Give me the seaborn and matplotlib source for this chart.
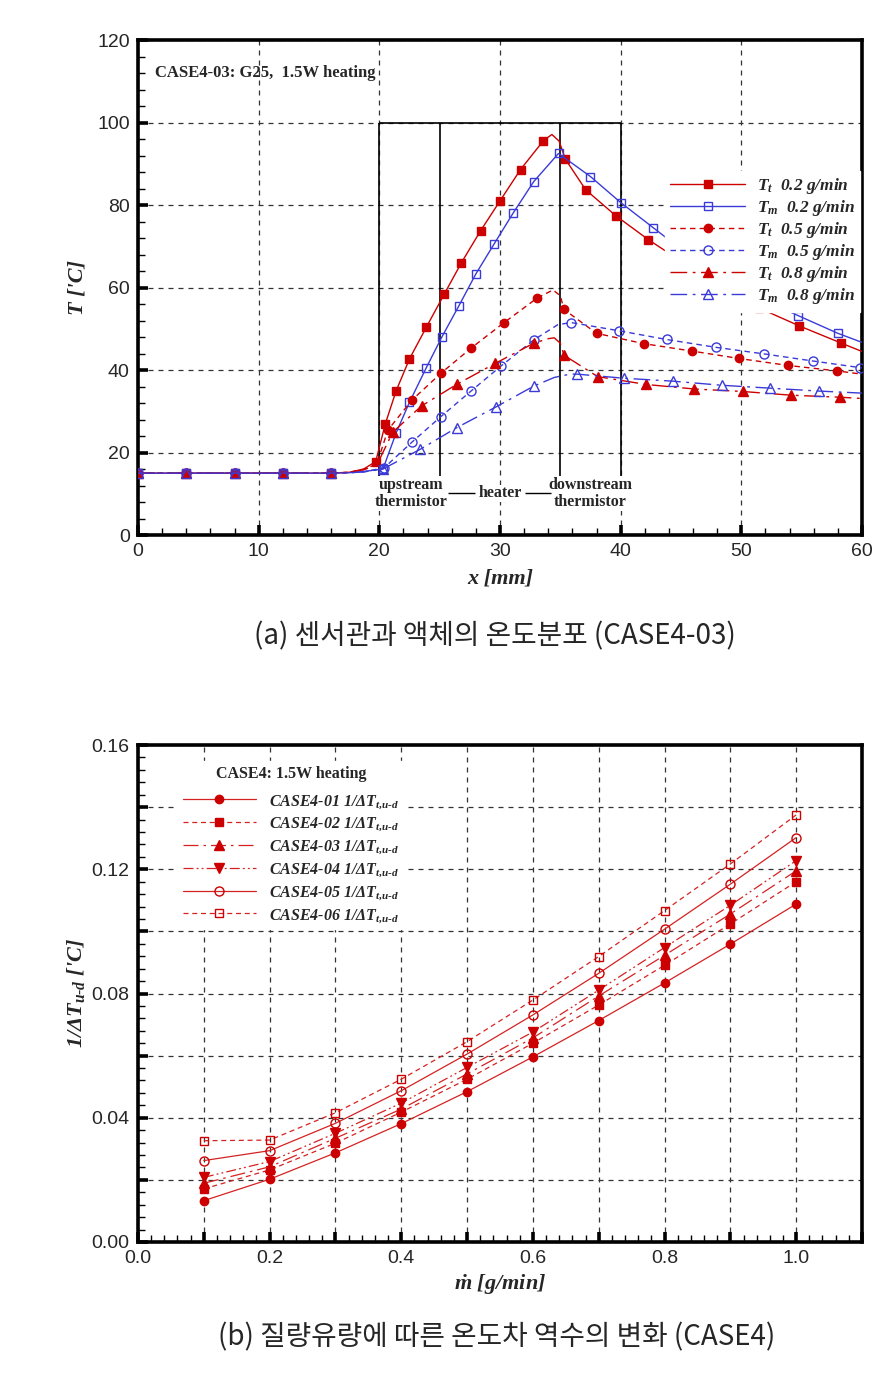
import matplotlib
matplotlib.use("Agg")
import matplotlib.pyplot as plt
import numpy as np
import pandas as pd
import seaborn as sns
from matplotlib.ticker import MultipleLocator, FuncFormatter
from matplotlib.lines import Line2D

# ---------------- data: (a) temperature distribution ----------------
tt02_x = [0, 4, 8, 12, 16, 17.5, 18.7, 19.7, 20.5, 21.4, 22.5, 23.9, 25.4, 26.8, 28.4, 30.0, 31.7, 33.6,
          34.3, 34.9, 35.4, 37.1, 39.6, 42.3, 45.2, 48.3, 51.5, 54.8, 58.3, 60]
tt02_y = [15, 15, 15, 15, 15, 15.2, 16.0, 17.8, 27.0, 35.0, 42.7, 50.4, 58.5, 66.0, 73.8, 81.0, 88.6, 95.6,
          97.1, 95.5, 91.2, 83.7, 77.4, 71.6, 66.0, 60.5, 55.0, 50.7, 46.5, 44.5]
tt02_mk = [0, 1, 2, 3, 4, 7, 8, 9, 10, 11, 12, 13, 14, 15, 16, 17, 20, 21, 22, 23, 24, 25, 26, 27, 28]

tm02_x = [0, 4, 8, 12, 16, 17.5, 18.7, 20.3, 21.4, 22.5, 23.9, 25.2, 26.6, 28.0, 29.5, 31.1, 32.8, 34.85,
          37.5, 40.0, 42.7, 45.4, 48.1, 51.4, 54.7, 58.0, 60]
tm02_y = [15, 15, 15, 15, 15, 15.1, 15.4, 16.0, 24.8, 32.2, 40.6, 48.1, 55.6, 63.3, 70.5, 78.1, 85.7, 92.5,
          86.9, 80.6, 74.5, 68.4, 62.5, 57.6, 53.2, 48.9, 46.7]
tm02_mk = [0, 1, 2, 3, 4, 7, 8, 9, 10, 11, 12, 13, 14, 15, 16, 17, 18, 19, 20, 21, 22, 23, 24, 25]

tt05_x = [0, 4, 8, 12, 16, 17.5, 18.7, 19.8, 20.7, 22.7, 25.1, 27.6, 30.3, 33.1, 34.4, 35.0, 35.3, 38.0,
          41.9, 45.9, 49.8, 53.9, 57.9, 60]
tt05_y = [15, 15, 15, 15, 15, 15.2, 15.9, 17.2, 25.4, 32.7, 39.2, 45.3, 51.4, 57.5, 59.4, 58.0, 54.7, 48.9,
          46.4, 44.6, 42.8, 41.1, 39.8, 39.0]
tt05_mk = [0, 1, 2, 3, 4, 8, 9, 10, 11, 12, 13, 16, 17, 18, 19, 20, 21, 22]

tm05_x = [0, 4, 8, 12, 16, 17.5, 18.7, 20.4, 22.7, 25.1, 27.6, 30.1, 32.8, 34.8, 35.9, 39.9, 43.8, 47.9,
          51.9, 55.9, 59.8, 60]
tm05_y = [15, 15, 15, 15, 15, 15.1, 15.3, 16.3, 22.5, 28.7, 34.9, 41.0, 47.3, 51.0, 51.5, 49.5, 47.4, 45.5,
          43.9, 42.2, 40.6, 40.5]
tm05_mk = [0, 1, 2, 3, 4, 7, 8, 9, 10, 11, 12, 14, 15, 16, 17, 18, 19, 20]

tt08_x = [0, 4, 8, 12, 16, 17.5, 18.7, 19.8, 21.1, 23.5, 26.4, 29.6, 32.8, 34.0, 34.5, 35.0, 35.3, 38.1,
          42.1, 46.1, 50.1, 54.1, 58.2, 60]
tt08_y = [15, 15, 15, 15, 15, 15.2, 15.8, 17.0, 24.9, 31.3, 36.5, 41.6, 46.5, 47.6, 47.8, 46.5, 43.6, 38.4,
          36.5, 35.4, 34.8, 33.9, 33.4, 33.1]
tt08_mk = [0, 1, 2, 3, 4, 8, 9, 10, 11, 12, 16, 17, 18, 19, 20, 21, 22]

tm08_x = [0, 4, 8, 12, 16, 17.5, 18.7, 20.3, 23.4, 26.4, 29.7, 32.8, 34.5, 35.8, 36.4, 40.3, 44.3, 48.4,
          52.4, 56.4, 60]
tm08_y = [15, 15, 15, 15, 15, 15.1, 15.3, 16.0, 20.8, 26.0, 31.1, 36.1, 38.2, 39.0, 39.0, 38.0, 37.3, 36.3,
          35.6, 34.9, 34.4]
tm08_mk = [0, 1, 2, 3, 4, 7, 8, 9, 10, 11, 14, 15, 16, 17, 18, 19]

labels_a = [r"$T_t$  0.2 g/min", r"$T_m$  0.2 g/min", r"$T_t$  0.5 g/min",
            r"$T_m$  0.5 g/min", r"$T_t$  0.8 g/min", r"$T_m$  0.8 g/min"]

# ---------------- data: (b) inverse temperature difference ----------------
mdot = [0.1, 0.2, 0.3, 0.4, 0.5, 0.6, 0.7, 0.8, 0.9, 1.0]
case01 = [0.0133, 0.0202, 0.0287, 0.0381, 0.0484, 0.0596, 0.0713, 0.0834, 0.0959, 0.1088]
case02 = [0.0171, 0.0232, 0.0318, 0.0418, 0.0524, 0.0640, 0.0763, 0.0891, 0.1024, 0.1160]
case03 = [0.0189, 0.0242, 0.0334, 0.0428, 0.0541, 0.0657, 0.0792, 0.0923, 0.1056, 0.1195]
case04 = [0.0208, 0.0259, 0.0350, 0.0447, 0.0562, 0.0676, 0.0811, 0.0948, 0.1084, 0.1228]
case05 = [0.0262, 0.0294, 0.0382, 0.0487, 0.0605, 0.0731, 0.0865, 0.1007, 0.1152, 0.1302]
case06 = [0.0326, 0.0328, 0.0416, 0.0524, 0.0645, 0.0779, 0.0919, 0.1067, 0.1217, 0.1375]
case_names = ["CASE4-01", "CASE4-02", "CASE4-03", "CASE4-04", "CASE4-05", "CASE4-06"]

# ---------------- style ----------------
sns.set_theme(style="white")
plt.rcParams["font.family"] = ["Liberation Sans", "DejaVu Sans"]
plt.rcParams["mathtext.fontset"] = "custom"
plt.rcParams["mathtext.it"] = "Liberation Serif:italic:bold"
plt.rcParams["mathtext.rm"] = "Liberation Serif:bold"
plt.rcParams["mathtext.bf"] = "Liberation Serif:bold"

RED = "#CC0000"
BLUE = "#3A3AD8"
RED2 = "#D42222"
DASH = (0, (4, 3))
DASHDOT = (0, (12, 4, 2, 4))
DASHDOTDOT = (0, (8, 2.5, 1.5, 2.5, 1.5, 2.5))

serif_bi = dict(family="Liberation Serif", style="italic", weight="bold")
serif_b = dict(family="Liberation Serif", weight="bold")

fig = plt.figure(figsize=(8.84, 13.9), dpi=100)
ax1 = fig.add_axes([0.1561, 0.6151, 0.8190, 0.3561])
ax2 = fig.add_axes([0.1561, 0.1065, 0.8190, 0.3575])


def draw(ax, x, y, mk, color, ls, marker, filled, ms, lw=1.0):
    df = pd.DataFrame({"x": x, "y": y})
    sns.lineplot(data=df, x="x", y="y", ax=ax, color=color, linestyle=ls, marker=marker,
                 markevery=mk, markerfacecolor=color if filled else "none",
                 markeredgecolor=color, markeredgewidth=1.0, markersize=ms,
                 linewidth=lw, sort=False, estimator=None, zorder=3)


def style_axes(ax):
    for s in ax.spines.values():
        s.set_linewidth(2.6)
        s.set_color("black")
    ax.tick_params(which="major", direction="in", length=7, width=2.6, color="black",
                   labelsize=14, pad=6, left=True, bottom=True, top=False, right=False)
    ax.tick_params(which="minor", direction="in", length=5, width=1.0, color="black",
                   left=True, bottom=True, top=False, right=False)
    ax.grid(True, which="major", linestyle=(0, (4, 4)), color="#333333", linewidth=0.9)
    ax.set_axisbelow(True)


# ---------------- (a) ----------------
specs_a = [
    (tt02_x, tt02_y, tt02_mk, RED, "-", "s", True, 5.5),
    (tm02_x, tm02_y, tm02_mk, BLUE, "-", "s", False, 5.5),
    (tt05_x, tt05_y, tt05_mk, RED, DASH, "o", True, 6),
    (tm05_x, tm05_y, tm05_mk, BLUE, DASH, "o", False, 6.5),
    (tt08_x, tt08_y, tt08_mk, RED, DASHDOT, "^", True, 6.5),
    (tm08_x, tm08_y, tm08_mk, BLUE, DASHDOT, "^", False, 7),
]
for (x, y, mk, c, ls, m, f, ms) in specs_a:
    draw(ax1, x, y, mk, c, ls, m, f, ms)

style_axes(ax1)
ax1.set_xlim(0, 60)
ax1.set_ylim(0, 120)
ax1.xaxis.set_major_locator(MultipleLocator(10))
ax1.xaxis.set_minor_locator(MultipleLocator(2))
ax1.yaxis.set_major_locator(MultipleLocator(20))
ax1.yaxis.set_minor_locator(MultipleLocator(4))
ax1.xaxis.set_major_formatter(FuncFormatter(lambda v, p: f"{v:.0f}"))
ax1.yaxis.set_major_formatter(FuncFormatter(lambda v, p: f"{v:.0f}"))
ax1.set_xlabel("x [mm]", fontsize=16, **serif_bi)
ax1.set_ylabel("T ['C]", fontsize=16, **serif_bi)
ax1.xaxis.set_label_coords(0.5, -0.068)
ax1.yaxis.set_label_coords(-0.07, 0.5)

# sensor/heater box
ax1.vlines([20, 25, 35, 40], 13.8, 100, color="black", linewidth=1.2, zorder=2)
ax1.hlines(100, 20, 40, color="black", linewidth=1.2, zorder=2)
txt_kw = dict(ha="center", va="center", fontsize=11.5, linespacing=1.1,
              bbox=dict(fc="white", ec="none", pad=0.5), zorder=4, **serif_b)
ax1.text(22.6, 10.1, "upstream\nthermistor", **txt_kw)
ax1.text(30.0, 10.1, "heater", **txt_kw)
ax1.text(37.5, 10.1, "downstream\nthermistor", **txt_kw)
ax1.hlines(10.1, 25.7, 27.9, color="black", linewidth=1.0, zorder=4)
ax1.hlines(10.1, 32.1, 34.2, color="black", linewidth=1.0, zorder=4)

ax1.text(0.023, 0.933, "CASE4-03: G25,  1.5W heating", transform=ax1.transAxes,
         fontsize=12, va="center", ha="left", **serif_b)

handles_a = [Line2D([], [], color=c, linestyle=ls, marker=m, markersize=ms,
                    markerfacecolor=c if f else "none", markeredgecolor=c, linewidth=1.0)
             for (_, _, _, c, ls, m, f, ms) in specs_a]
leg1 = ax1.legend(handles_a, labels_a, loc="upper left", bbox_to_anchor=(0.728, 0.736),
                  frameon=True, fancybox=False, framealpha=1.0, edgecolor="white",
                  facecolor="white", prop=dict(size=12.5, **serif_bi), handlelength=4.3,
                  handletextpad=0.7, labelspacing=0.12, borderpad=0.3, numpoints=1,
                  borderaxespad=0)
leg1.set_zorder(5)

# ---------------- (b) ----------------
specs_b = [
    (case01, "-", "o", True, 6),
    (case02, DASH, "s", True, 6),
    (case03, DASHDOT, "^", True, 7),
    (case04, DASHDOTDOT, "v", True, 7),
    (case05, "-", "o", False, 6.5),
    (case06, DASH, "s", False, 6),
]
for (yv, ls, m, f, ms) in specs_b:
    df = pd.DataFrame({"x": mdot, "y": yv})
    sns.lineplot(data=df, x="x", y="y", ax=ax2, color=RED2, linestyle=ls, marker=m,
                 markerfacecolor=RED if f else "none", markeredgecolor=RED,
                 markeredgewidth=1.0, markersize=ms, linewidth=0.9,
                 sort=False, estimator=None, zorder=3)

style_axes(ax2)
ax2.set_xlim(0, 1.1)
ax2.set_ylim(0, 0.16)
ax2.xaxis.set_major_locator(MultipleLocator(0.1))
ax2.xaxis.set_minor_locator(MultipleLocator(0.02))
ax2.yaxis.set_major_locator(MultipleLocator(0.02))
ax2.yaxis.set_minor_locator(MultipleLocator(0.004))
ax2.xaxis.set_major_formatter(FuncFormatter(
    lambda v, p: f"{v:.1f}" if int(round(v * 10)) % 2 == 0 and v < 1.05 else ""))
ax2.yaxis.set_major_formatter(FuncFormatter(
    lambda v, p: f"{v:.2f}" if int(round(v * 100)) % 4 == 0 else ""))
ax2.set_xlabel(r"$\dot{m}$ [g/min]", fontsize=16, **serif_bi)
ax2.set_ylabel(r"1/ΔT$_{u\text{-}d}$ ['C]", fontsize=16, **serif_bi)
ax2.xaxis.set_label_coords(0.5, -0.06)
ax2.yaxis.set_label_coords(-0.07, 0.5)

handles_b = [Line2D([], [], color=RED2, linestyle=ls, marker=m, markersize=ms,
                    markerfacecolor=RED if f else "none", markeredgecolor=RED, linewidth=0.9)
             for (_, ls, m, f, ms) in specs_b]
labels_b = [n + r" 1/ΔT$_{t{,}u\text{-}d}$" for n in case_names]
leg2 = ax2.legend(handles_b, labels_b, loc="upper left", bbox_to_anchor=(0.055, 0.968),
                  frameon=True, fancybox=False, framealpha=1.0, edgecolor="white",
                  facecolor="white", prop=dict(size=11.5, **serif_bi), handlelength=4.6,
                  handletextpad=0.8, labelspacing=0.32, borderpad=0.3, numpoints=1,
                  borderaxespad=0, title="CASE4: 1.5W heating",
                  title_fontproperties=dict(size=11.5, **serif_b))
leg2._legend_box.sep = 8
leg2.set_zorder(5)

# ---------------- captions ----------------
cap_kw = dict(ha="center", va="center", fontsize=20,
              family=["Noto Sans CJK KR", "DejaVu Sans"])
fig.text(0.56, 0.5424, "(a) 센서관과 액체의 온도분포 (CASE4-03)", **cap_kw)
fig.text(0.562, 0.0381, "(b) 질량유량에 따른 온도차 역수의 변화 (CASE4)", **cap_kw)

fig.savefig("out.png", dpi=100)
